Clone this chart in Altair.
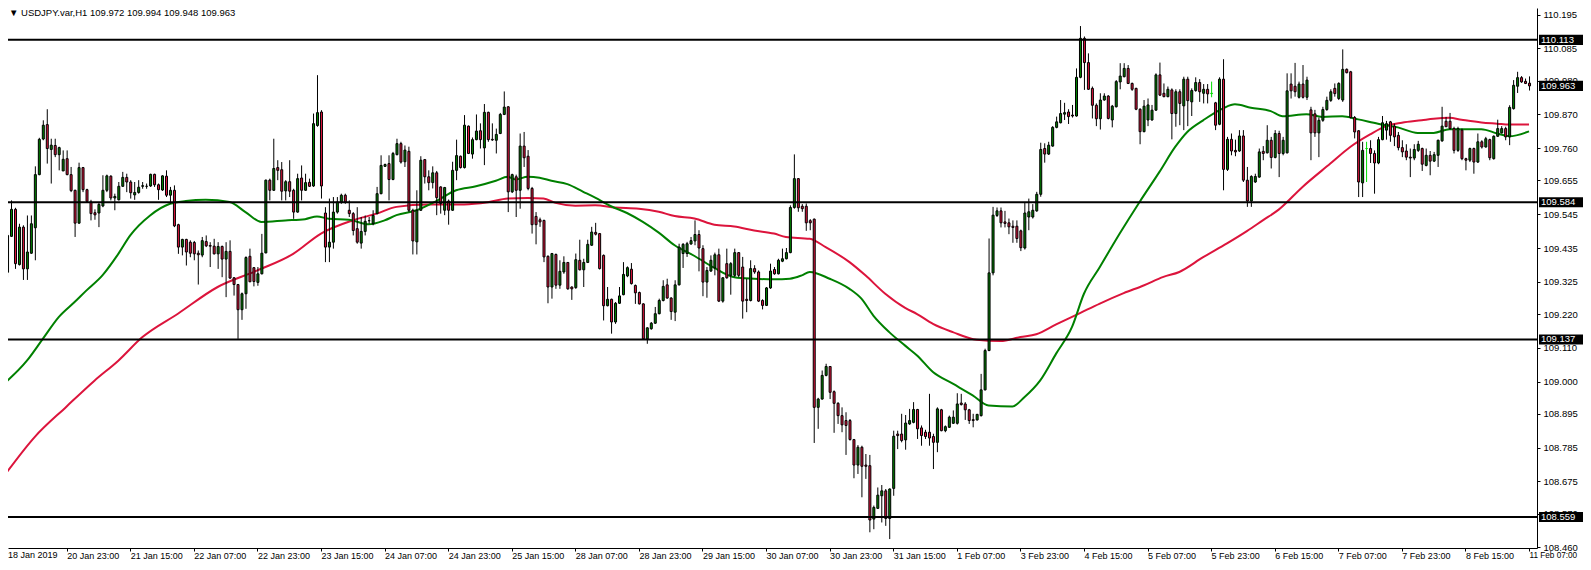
import json
import altair as alt
import pandas as pd

# ---------------- data ----------------
OPEN = [109.395,109.356,109.473,109.561,109.381,109.503,109.367,109.418,109.501,109.674,
109.790,109.837,109.756,109.769,109.739,109.686,109.726,109.674,109.623,109.516,
109.697,109.625,109.585,109.550,109.549,109.572,109.623,109.669,109.598,109.592,
109.636,109.665,109.650,109.608,109.616,109.636,109.636,109.637,109.675,109.641,
109.624,109.669,109.607,109.623,109.511,109.438,109.463,109.454,109.453,109.418,
109.412,109.456,109.443,109.441,109.416,109.440,109.399,109.424,109.338,109.316,
109.234,109.286,109.408,109.371,109.323,109.351,109.419,109.656,109.623,109.697,
109.690,109.621,109.651,109.623,109.552,109.663,109.623,109.649,109.637,109.834,
109.878,109.549,109.438,109.454,109.552,109.585,109.607,109.558,109.547,109.498,
109.451,109.489,109.524,109.514,109.547,109.612,109.701,109.710,109.658,109.739,
109.775,109.716,109.750,109.558,109.455,109.558,109.723,109.667,109.648,109.680,
109.634,109.558,109.588,109.558,109.688,109.734,109.697,109.832,109.741,109.788,
109.817,109.761,109.877,109.789,109.786,109.808,109.870,109.895,109.618,109.667,
109.623,109.767,109.734,109.629,109.538,109.527,109.525,109.408,109.308,109.414,
109.314,109.357,109.388,109.308,109.306,109.395,109.364,109.388,109.444,109.486,
109.482,109.411,109.247,109.268,109.194,109.255,109.283,109.344,109.366,109.313,
109.290,109.253,109.139,109.172,109.190,109.221,109.264,109.315,109.272,109.226,
109.315,109.417,109.417,109.448,109.458,109.479,109.433,109.324,109.360,109.370,
109.413,109.262,109.384,109.346,109.346,109.420,109.373,109.268,109.264,109.368,
109.357,109.264,109.248,109.305,109.365,109.351,109.392,109.400,109.420,109.567,
109.661,109.571,109.571,109.524,109.529,108.916,108.943,109.020,109.049,108.967,
108.929,108.889,108.873,108.873,108.811,108.728,108.786,108.728,108.726,108.552,
108.587,108.628,108.644,108.554,108.652,108.829,108.829,108.810,108.862,108.867,
108.909,108.849,108.835,108.835,108.821,108.802,108.908,108.840,108.851,108.864,
108.864,108.930,108.927,108.908,108.876,108.875,108.889,108.973,109.101,109.354,
109.541,109.556,109.520,109.517,109.506,109.506,109.491,109.435,109.536,109.536,
109.556,109.610,109.759,109.741,109.767,109.828,109.843,109.871,109.878,109.868,
109.865,109.991,110.118,110.039,109.955,109.900,109.856,109.917,109.930,109.852,
109.895,109.976,109.993,110.020,109.971,109.955,109.887,109.814,109.852,109.852,
109.884,109.999,109.939,109.928,109.950,109.873,109.944,109.898,109.985,109.911,
109.948,109.974,109.939,109.952,109.939,109.908,109.838,109.985,109.691,109.789,
109.753,109.751,109.800,109.656,109.588,109.650,109.666,109.750,109.745,109.786,
109.730,109.808,109.743,109.745,109.969,109.962,109.926,109.969,109.926,109.885,
109.872,109.810,109.851,109.886,109.916,109.955,109.922,109.917,110.017,110.009,
109.860,109.817,109.647,109.759,109.759,109.743,109.712,109.788,109.819,109.846,
109.832,109.802,109.762,109.751,109.731,109.728,109.753,109.759,109.704,109.737,
109.718,109.737,109.784,109.848,109.848,109.824,109.753,109.819,109.726,109.721,
109.759,109.715,109.781,109.764,109.788,109.726,109.799,109.810,109.824,109.797,
109.889,109.962,109.990,109.978,109.972]

HIGH = [109.405,109.487,109.590,109.566,109.514,109.509,109.541,109.541,109.701,109.794,
109.851,109.887,109.791,109.791,109.765,109.753,109.753,109.699,109.625,109.713,
109.699,109.628,109.592,109.561,109.582,109.672,109.674,109.672,109.612,109.650,
109.683,109.677,109.656,109.650,109.656,109.650,109.645,109.677,109.677,109.645,
109.672,109.688,109.634,109.639,109.514,109.465,109.465,109.460,109.458,109.427,
109.471,109.476,109.454,109.465,109.454,109.443,109.454,109.460,109.340,109.318,
109.290,109.408,109.433,109.373,109.373,109.481,109.658,109.661,109.791,109.721,
109.715,109.656,109.721,109.628,109.677,109.704,109.677,109.661,109.873,109.998,
109.884,109.568,109.596,109.601,109.601,109.612,109.612,109.590,109.552,109.568,
109.536,109.541,109.536,109.558,109.634,109.737,109.710,109.737,109.748,109.791,
109.781,109.769,109.765,109.563,109.623,109.734,109.725,109.688,109.701,109.686,
109.636,109.634,109.593,109.716,109.788,109.736,109.868,109.834,109.795,109.870,
109.841,109.904,109.879,109.841,109.824,109.875,109.945,109.897,109.677,109.674,
109.808,109.813,109.754,109.634,109.552,109.534,109.527,109.411,109.419,109.417,
109.395,109.408,109.389,109.310,109.417,109.462,109.400,109.462,109.504,109.517,
109.484,109.414,109.308,109.270,109.259,109.308,109.389,109.375,109.386,109.316,
109.293,109.255,109.177,109.194,109.243,109.270,109.330,109.335,109.275,109.330,
109.449,109.451,109.455,109.471,109.525,109.493,109.444,109.373,109.411,109.420,
109.433,109.340,109.433,109.389,109.433,109.422,109.406,109.335,109.395,109.379,
109.362,109.268,109.308,109.384,109.373,109.400,109.433,109.435,109.574,109.740,
109.663,109.578,109.580,109.529,109.531,108.947,109.036,109.058,109.050,108.971,
108.933,108.916,108.900,108.878,108.813,108.793,108.791,108.764,108.761,108.596,
108.655,108.663,108.650,108.652,108.840,108.840,108.895,108.891,108.911,108.933,
108.911,108.857,108.843,108.960,108.830,108.916,108.911,108.857,108.889,108.906,
108.962,108.960,108.933,108.911,108.895,108.895,109.025,109.107,109.466,109.569,
109.567,109.567,109.556,109.531,109.525,109.525,109.495,109.582,109.596,109.578,
109.618,109.778,109.776,109.781,109.832,109.863,109.917,109.908,109.887,109.901,
110.020,110.158,110.124,110.069,109.961,109.906,109.939,109.939,109.933,109.901,
109.982,110.037,110.037,110.031,109.974,109.957,109.890,109.917,109.922,109.901,
110.004,110.039,109.971,109.961,109.955,109.952,109.952,109.993,109.993,109.955,
109.991,109.985,109.969,109.969,109.977,109.911,109.991,110.050,109.797,109.808,
109.788,109.819,109.819,109.699,109.672,109.677,109.759,109.767,109.835,109.797,
109.819,109.817,109.797,110.004,110.004,110.038,109.977,110.031,109.993,109.895,
109.885,109.860,109.895,109.928,109.952,109.971,109.975,110.082,110.020,110.012,
109.865,109.819,109.781,109.781,109.786,109.753,109.797,109.865,109.849,109.849,
109.840,109.813,109.786,109.773,109.759,109.773,109.784,109.762,109.759,109.751,
109.748,109.788,109.895,109.862,109.875,109.830,109.830,109.824,109.729,109.762,
109.762,109.808,109.786,109.797,109.791,109.802,109.853,109.832,109.830,109.900,
109.982,110.009,109.995,109.987,109.994]

LOW = [109.340,109.340,109.471,109.367,109.378,109.331,109.331,109.416,109.395,109.672,
109.786,109.710,109.645,109.731,109.688,109.686,109.672,109.617,109.471,109.514,
109.617,109.585,109.525,109.527,109.503,109.568,109.617,109.590,109.558,109.590,
109.634,109.617,109.596,109.592,109.612,109.628,109.628,109.634,109.634,109.592,
109.621,109.601,109.579,109.503,109.416,109.411,109.378,109.405,109.395,109.316,
109.405,109.438,109.373,109.414,109.367,109.340,109.275,109.335,109.280,109.139,
109.201,109.237,109.324,109.310,109.312,109.349,109.418,109.590,109.621,109.656,
109.590,109.590,109.601,109.530,109.550,109.590,109.621,109.634,109.634,109.830,
109.596,109.389,109.389,109.433,109.547,109.579,109.579,109.536,109.476,109.449,
109.433,109.476,109.514,109.509,109.545,109.610,109.699,109.590,109.656,109.737,
109.710,109.699,109.552,109.414,109.414,109.556,109.645,109.623,109.629,109.542,
109.547,109.542,109.511,109.556,109.656,109.694,109.694,109.741,109.726,109.786,
109.759,109.705,109.781,109.784,109.743,109.806,109.868,109.552,109.614,109.536,
109.563,109.699,109.623,109.482,109.447,109.504,109.389,109.255,109.270,109.302,
109.302,109.351,109.299,109.266,109.302,109.362,109.308,109.386,109.442,109.476,
109.365,109.199,109.245,109.156,109.188,109.253,109.281,109.340,109.316,109.253,
109.251,109.136,109.123,109.169,109.188,109.219,109.261,109.270,109.201,109.197,
109.313,109.370,109.406,109.446,109.444,109.359,109.278,109.273,109.357,109.346,
109.259,109.257,109.335,109.283,109.340,109.340,109.205,109.226,109.261,109.351,
109.259,109.235,109.246,109.302,109.348,109.349,109.389,109.398,109.418,109.563,
109.553,109.553,109.491,109.493,108.800,108.846,108.941,109.017,108.943,108.833,
108.862,108.835,108.761,108.808,108.685,108.699,108.623,108.683,108.509,108.519,
108.585,108.541,108.530,108.487,108.628,108.780,108.802,108.778,108.859,108.864,
108.813,108.791,108.813,108.791,108.715,108.770,108.838,108.835,108.849,108.862,
108.860,108.922,108.875,108.862,108.851,108.873,108.886,108.971,109.099,109.346,
109.536,109.502,109.502,109.480,109.452,109.452,109.425,109.430,109.493,109.531,
109.553,109.602,109.713,109.738,109.765,109.825,109.841,109.852,109.839,109.860,
109.863,109.988,109.950,109.950,109.857,109.832,109.821,109.915,109.854,109.828,
109.893,109.952,109.991,109.969,109.947,109.884,109.773,109.812,109.832,109.850,
109.882,109.930,109.926,109.926,109.789,109.830,109.835,109.819,109.832,109.865,
109.944,109.911,109.906,109.906,109.926,109.819,109.835,109.623,109.686,109.737,
109.734,109.748,109.650,109.569,109.569,109.647,109.664,109.721,109.743,109.694,
109.727,109.666,109.737,109.743,109.922,109.928,109.922,109.922,109.917,109.721,
109.797,109.731,109.846,109.882,109.911,109.928,109.917,109.911,110.004,109.857,
109.792,109.601,109.601,109.650,109.712,109.612,109.708,109.786,109.788,109.781,
109.767,109.753,109.731,109.721,109.666,109.721,109.748,109.686,109.701,109.672,
109.715,109.699,109.781,109.830,109.821,109.743,109.748,109.721,109.688,109.715,
109.677,109.712,109.759,109.762,109.721,109.723,109.797,109.808,109.786,109.770,
109.886,109.940,109.973,109.969,109.948]

CLOSE = [109.356,109.476,109.561,109.384,109.503,109.367,109.422,109.514,109.674,109.789,
109.835,109.759,109.770,109.739,109.762,109.724,109.674,109.622,109.516,109.697,
109.625,109.587,109.547,109.543,109.577,109.623,109.670,109.598,109.603,109.636,
109.665,109.650,109.615,109.616,109.633,109.638,109.636,109.675,109.641,109.625,
109.670,109.607,109.623,109.507,109.438,109.463,109.422,109.418,109.416,109.413,
109.459,109.442,109.441,109.416,109.440,109.399,109.424,109.337,109.316,109.234,
109.286,109.404,109.325,109.326,109.351,109.418,109.656,109.623,109.694,109.688,
109.620,109.651,109.620,109.552,109.661,109.623,109.648,109.636,109.840,109.876,
109.637,109.438,109.454,109.552,109.585,109.607,109.585,109.547,109.492,109.454,
109.489,109.522,109.524,109.541,109.612,109.704,109.707,109.658,109.743,109.775,
109.715,109.754,109.558,109.458,109.558,109.721,109.667,109.648,109.680,109.599,
109.580,109.632,109.558,109.688,109.736,109.697,109.835,109.743,109.788,109.816,
109.788,109.877,109.788,109.787,109.805,109.870,109.894,109.618,109.674,109.623,
109.767,109.729,109.629,109.511,109.511,109.520,109.406,109.308,109.417,109.314,
109.359,109.388,109.302,109.302,109.397,109.364,109.388,109.447,109.487,109.480,
109.368,109.247,109.268,109.194,109.255,109.279,109.349,109.371,109.319,109.289,
109.253,109.139,109.175,109.190,109.221,109.264,109.310,109.272,109.228,109.315,
109.438,109.447,109.449,109.459,109.479,109.435,109.324,109.362,109.395,109.413,
109.262,109.338,109.338,109.384,109.420,109.346,109.262,109.264,109.368,109.357,
109.262,109.248,109.305,109.360,109.351,109.395,109.400,109.420,109.567,109.661,
109.566,109.563,109.517,109.517,108.916,108.943,109.020,109.049,108.965,108.929,
108.889,108.859,108.857,108.811,108.728,108.786,108.724,108.724,108.549,108.590,
108.630,108.644,108.554,108.650,108.822,108.824,108.808,108.865,108.873,108.909,
108.846,108.824,108.821,108.816,108.802,108.911,108.840,108.853,108.884,108.884,
108.927,108.925,108.908,108.873,108.873,108.893,108.973,109.101,109.354,109.542,
109.556,109.517,109.515,109.504,109.502,109.466,109.436,109.549,109.553,109.558,
109.610,109.756,109.741,109.770,109.828,109.846,109.873,109.876,109.863,109.865,
109.991,110.118,110.039,109.952,109.900,109.856,109.917,109.930,109.857,109.897,
109.977,109.995,110.020,109.971,109.952,109.887,109.814,109.897,109.901,109.884,
109.999,109.933,109.928,109.952,109.873,109.944,109.906,109.985,109.915,109.948,
109.974,109.944,109.952,109.937,109.938,109.835,109.985,109.691,109.789,109.751,
109.748,109.800,109.656,109.588,109.668,109.668,109.748,109.743,109.786,109.730,
109.808,109.743,109.786,109.947,109.947,109.944,109.969,109.926,109.982,109.810,
109.810,109.851,109.886,109.916,109.944,109.938,109.971,110.017,110.006,109.860,
109.813,109.650,109.753,109.759,109.743,109.712,109.788,109.843,109.840,109.802,
109.797,109.762,109.748,109.731,109.728,109.756,109.773,109.708,109.737,109.718,
109.739,109.786,109.832,109.830,109.824,109.753,109.824,109.726,109.721,109.759,
109.715,109.781,109.764,109.791,109.729,109.799,109.824,109.824,109.797,109.893,
109.965,109.990,109.976,109.971,109.963]

# two bars drawn with a bright-green outline in the terminal
LIME_BARS = [304, 343]

# time labels every 16 hourly bars
X_LABELS = ["18 Jan 2019", "20 Jan 23:00", "21 Jan 15:00", "22 Jan 07:00", "22 Jan 23:00",
            "23 Jan 15:00", "24 Jan 07:00", "24 Jan 23:00", "25 Jan 15:00", "28 Jan 07:00",
            "28 Jan 23:00", "29 Jan 15:00", "30 Jan 07:00", "30 Jan 23:00", "31 Jan 15:00",
            "1 Feb 07:00", "3 Feb 23:00", "4 Feb 15:00", "5 Feb 07:00", "5 Feb 23:00",
            "6 Feb 15:00", "7 Feb 07:00", "7 Feb 23:00", "8 Feb 15:00", "11 Feb 07:00"]
LABEL_STEP = 16

# moving averages (bar index, value)
GREEN_MA_BAR = [0,6,10,14,18,21,25,29,32,37,42,46,51,57,61,65,71,76,79,82,87,92,96,99,104,109,114,119,
                124,127,129,132,135,138,142,146,149,153,157,161,165,169,174,179,184,189,194,198,201,
                203,208,213,216,219,223,227,230,234,239,244,248,254,257,261,265,269,272,276,281,286,
                291,295,298,302,307,310,314,319,322,328,332,337,341,346,351,356,360,364,372,376,379,384]
GREEN_MA = [108.990,109.068,109.139,109.210,109.259,109.297,109.346,109.416,109.476,109.541,109.579,
            109.588,109.592,109.585,109.552,109.520,109.525,109.529,109.538,109.530,109.527,109.512,
            109.525,109.542,109.558,109.588,109.623,109.636,109.654,109.667,109.658,109.667,109.664,
            109.654,109.643,109.618,109.599,109.571,109.549,109.520,109.485,109.444,109.409,109.370,
            109.340,109.335,109.333,109.335,109.346,109.357,109.335,109.302,109.270,109.215,109.161,
            109.117,109.085,109.031,108.993,108.955,108.922,108.919,108.949,109.004,109.091,109.178,
            109.286,109.373,109.482,109.585,109.683,109.765,109.813,109.851,109.890,109.903,109.892,
            109.881,109.864,109.871,109.862,109.864,109.854,109.840,109.828,109.810,109.810,109.822,
            109.822,109.808,109.799,109.815]
RED_MA_BAR = [0,8,16,23,29,35,44,54,64,73,80,88,94,99,107,116,122,127,132,136,139,144,149,154,160,165,
              169,174,179,184,189,194,197,203,207,213,217,222,227,230,234,239,245,251,256,260,265,271,
              276,282,287,292,296,302,308,313,317,321,327,334,339,344,348,352,357,360,364,367,372,376,
              379,384]
RED_MA = [108.688,108.820,108.919,109.003,109.068,109.144,109.221,109.308,109.362,109.416,109.482,
          109.525,109.547,109.569,109.577,109.577,109.584,109.596,109.598,109.596,109.582,109.573,
          109.574,109.567,109.563,109.553,109.539,109.531,109.511,109.505,109.492,109.482,109.471,
          109.465,109.438,109.389,109.346,109.286,109.240,109.220,109.188,109.161,109.136,109.132,
          109.145,109.154,109.186,109.223,109.254,109.288,109.313,109.341,109.357,109.405,109.450,
          109.490,109.525,109.560,109.634,109.710,109.764,109.805,109.832,109.843,109.851,109.856,
          109.859,109.853,109.844,109.840,109.837,109.837]

LEVELS = [110.113, 109.584, 109.137, 108.559]
LAST_PRICE = 109.963
Y_TICKS = [110.195, 110.085, 109.980, 109.870, 109.760, 109.655, 109.545, 109.435, 109.325,
           109.220, 109.110, 109.000, 108.895, 108.785, 108.675, 108.570, 108.460]
TITLE = "\u25BC USDJPY.var,H1  109.972 109.994 109.948 109.963"

# ---------------- chart ----------------
FONT = "Liberation Sans"
FS_Y = 9.5
FS_X = 9
W, H = 1529, 540          # plot area; whole chart = 1575 x 554 (fits the page)
PX_PER_BAR = 4
PX_PER_UNIT = 307.0
Y_TOP = 110.2168
BULL, BEAR, LIME = "#008000", "#DC143C", "#00E000"

n = len(CLOSE)
bars = pd.DataFrame({"i": list(range(n)), "o": OPEN, "h": HIGH, "l": LOW, "c": CLOSE})
bars["dir"] = ["up" if c >= o else "down" for o, c in zip(OPEN, CLOSE)]
bars["edge"] = ["lime" if k in LIME_BARS else "black" for k in range(n)]

green = pd.DataFrame({"i": GREEN_MA_BAR, "v": GREEN_MA})
red = pd.DataFrame({"i": RED_MA_BAR, "v": RED_MA})
levels = pd.DataFrame({"v": LEVELS})
boxes = pd.DataFrame({"v": LEVELS + [LAST_PRICE]})

xscale = alt.Scale(domain=[2.5, 2.5 + W / PX_PER_BAR], nice=False, zero=False)
yscale = alt.Scale(domain=[Y_TOP - H / PX_PER_UNIT, Y_TOP], nice=False, zero=False)
edge_scale = alt.Scale(domain=["black", "lime"], range=["black", LIME])

labels_js = json.dumps(X_LABELS)
last_tick = (n - 1) // LABEL_STEP * LABEL_STEP
xaxis = alt.Axis(values=list(range(LABEL_STEP, n, LABEL_STEP)),
                 labelExpr=f"{labels_js}[round(datum.value/{LABEL_STEP})]",
                 title=None, grid=False, domain=True, domainColor="black", domainWidth=1,
                 ticks=True, tickColor="black", tickSize=3, labelAlign="left",
                 labelBaseline="top", labelPadding=0, labelFont=FONT,
                 labelFontSize={"condition": {"test": f"datum.value == {last_tick}", "value": 8.2},
                                "value": FS_X},
                 labelColor="black", labelOverlap=False, labelFlush=False, labelBound=False)
yaxis = alt.Axis(orient="right", values=Y_TICKS, format=".3f", title=None, grid=False,
                 domain=True, domainColor="black", domainWidth=1, ticks=True, tickColor="black",
                 tickSize=3, labelPadding=3, labelFont=FONT, labelFontSize=FS_Y,
                 labelColor="black", labelOverlap=False, labelFlush=False, labelBound=False)

X = alt.X("i:Q", scale=xscale, axis=xaxis)


def Y(field):
    return alt.Y(f"{field}:Q", scale=yscale, axis=yaxis)


wicks = alt.Chart(bars).mark_rule(strokeWidth=1, xOffset=0.5, clip=True).encode(
    x=X, y=Y("l"), y2="h:Q",
    color=alt.Color("edge:N", scale=edge_scale, legend=None))

bodies = alt.Chart(bars).mark_bar(width=2, strokeWidth=1, xOffset=0.5, clip=True).encode(
    x=X, y=Y("o"), y2="c:Q",
    fill=alt.Fill("dir:N", scale=alt.Scale(domain=["up", "down"], range=[BULL, BEAR]),
                  legend=None),
    stroke=alt.Stroke("edge:N", scale=edge_scale, legend=None))

ma_green = alt.Chart(green).mark_line(color="#008000", strokeWidth=2, interpolate="monotone",
                                      clip=True).encode(x=X, y=Y("v"))
ma_red = alt.Chart(red).mark_line(color="#DC143C", strokeWidth=2, interpolate="monotone",
                                  clip=True).encode(x=X, y=Y("v"))

level_lines = alt.Chart(levels).mark_rule(color="black", strokeWidth=2).encode(y=Y("v"))

box_rect = alt.Chart(boxes).transform_calculate(
    lo="datum.v - 0.0165", hi="datum.v + 0.0165"
).mark_rect(color="black", clip=False).encode(
    x=alt.value(W + 2), x2=alt.value(W + 46), y=Y("lo"), y2="hi:Q")

box_text = alt.Chart(boxes).mark_text(
    align="left", baseline="middle", font=FONT, fontSize=FS_Y, color="white", clip=False
).encode(x=alt.value(W + 4), y=Y("v"), text=alt.Text("v:Q", format=".3f"))

first_label = alt.Chart(pd.DataFrame({"t": [X_LABELS[0]]})).mark_text(
    align="left", baseline="top", font=FONT, fontSize=FS_X, color="black", clip=False
).encode(x=alt.value(0), y=alt.value(H + 3), text="t:N")

title = alt.Chart(pd.DataFrame({"t": [TITLE]})).mark_text(
    align="left", baseline="top", font=FONT, fontSize=FS_Y, color="black"
).encode(x=alt.value(1), y=alt.value(0), text="t:N")

chart = alt.layer(
    ma_red, ma_green, wicks, bodies, level_lines, box_rect, box_text, first_label, title
).resolve_scale(color="independent", stroke="independent").properties(
    width=W, height=H,
    padding={"left": 0, "top": 0, "right": 46, "bottom": 14},
    autosize=alt.AutoSizeParams(type="none"),
    background="white",
).configure_view(stroke=None)

chart.save("out.html", embed_options={"renderer": "svg", "actions": False})
